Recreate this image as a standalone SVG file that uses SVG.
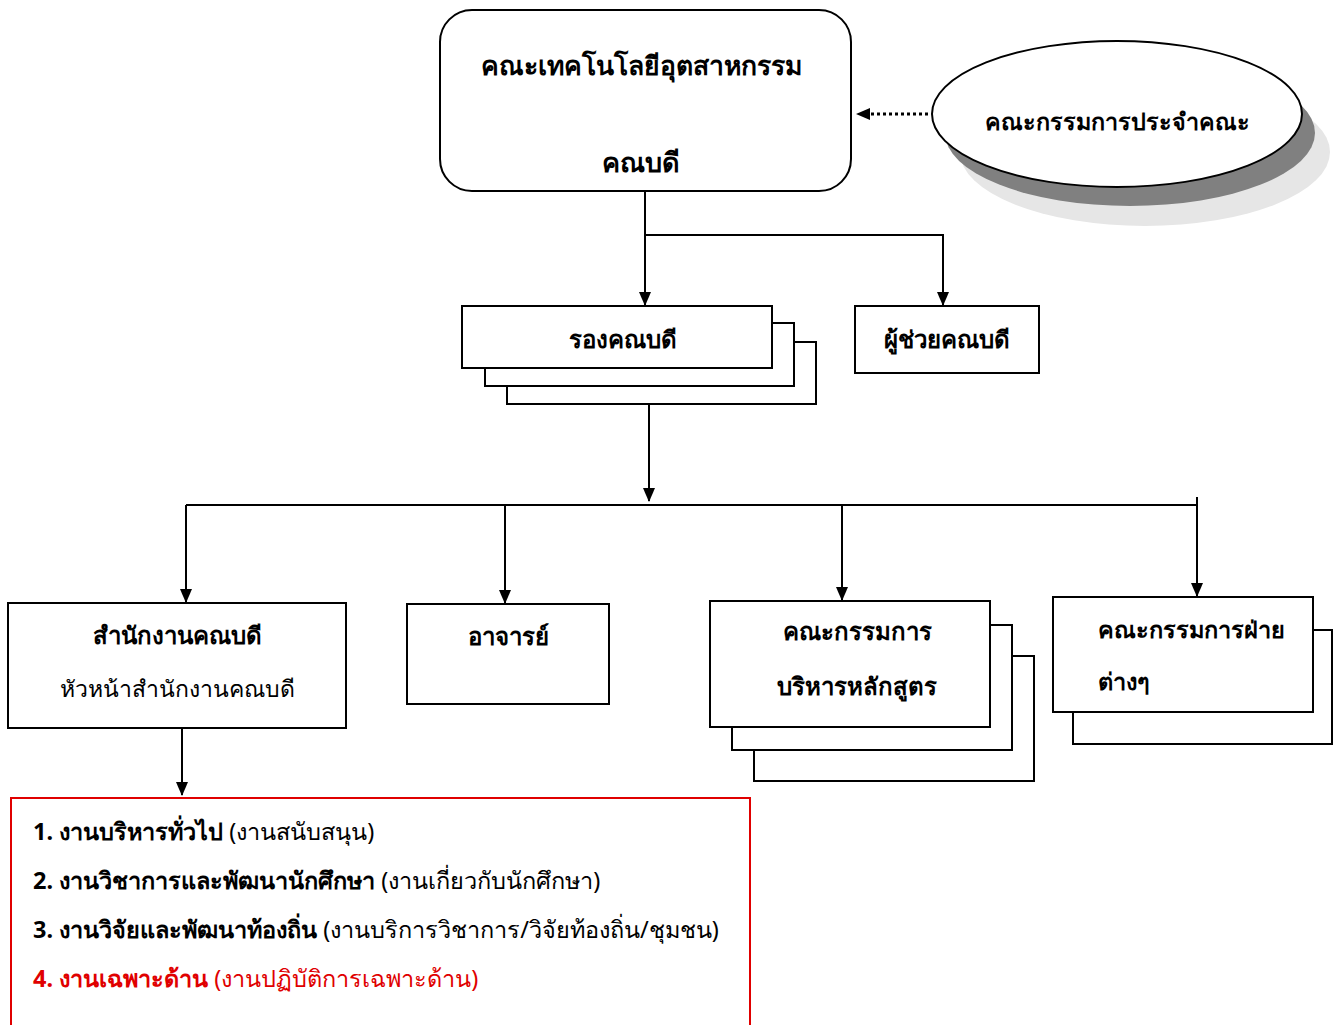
<svg xmlns="http://www.w3.org/2000/svg" width="1343" height="1025" viewBox="0 0 1343 1025">
<style>
text{font-family:"Noto Sans","DejaVu Sans",sans-serif;fill:#000}
.b{font-weight:bold}
.box{fill:#fff;stroke:#000;stroke-width:2}
.ln{fill:none;stroke:#000;stroke-width:2}
.tb{font-size:24px;font-weight:bold}
.tr{font-size:23px}
.tl{font-size:23.5px}
.red{fill:#e00000}
</style>
<defs>
<marker id="ah" viewBox="0 0 14 12" refX="13" refY="6" markerWidth="14" markerHeight="12" markerUnits="userSpaceOnUse" orient="auto">
<path d="M0,0 L14,6 L0,12 Z" fill="#000"/>
</marker>
</defs>
<rect width="1343" height="1025" fill="#fff"/>
<g id="connectors">
<path class="ln" d="M645,191 V305" marker-end="url(#ah)"/>
<path class="ln" d="M645,235 H943 V305" marker-end="url(#ah)"/>
<path class="ln" d="M649,404 V501" marker-end="url(#ah)"/>
<path class="ln" d="M186,505 H1198"/>
<path class="ln" d="M1197,497 V596" marker-end="url(#ah)"/>
<path class="ln" d="M186,505 V602" marker-end="url(#ah)"/>
<path class="ln" d="M505,505 V603" marker-end="url(#ah)"/>
<path class="ln" d="M842,505 V600" marker-end="url(#ah)"/>
<path class="ln" d="M182,728 V795" marker-end="url(#ah)"/>
<path d="M928,114 H868" fill="none" stroke="#000" stroke-width="3" stroke-dasharray="3,3"/>
<path d="M856,114 L870,108 L870,120 Z" fill="#000"/>
</g>
<g id="dean">
<rect class="box" x="440" y="10" width="411" height="181" rx="32"/>
<text style="font-size:26.5px;font-weight:bold" x="641" y="75" text-anchor="middle">คณะเทคโนโลยีอุตสาหกรรม</text>
<text style="font-size:27px;font-weight:bold" x="641" y="172" text-anchor="middle">คณบดี</text>
</g>
<g id="faculty-committee">
<ellipse cx="1145" cy="152" rx="185" ry="74" fill="#e6e6e6"/>
<ellipse cx="1130" cy="133" rx="185" ry="73" fill="#808080"/>
<ellipse cx="1117" cy="114" rx="185" ry="73" fill="#fff" stroke="#000" stroke-width="2"/>
<text style="font-size:23.3px;font-weight:bold" x="1117" y="130" text-anchor="middle">คณะกรรมการประจำคณะ</text>
</g>
<g id="vice-dean">
<rect class="box" x="507" y="342" width="309" height="62"/>
<rect class="box" x="485" y="323" width="309" height="63"/>
<rect class="box" x="462" y="306" width="310" height="62"/>
<text class="tb" x="623" y="348" text-anchor="middle">รองคณบดี</text>
</g>
<g id="assistant-dean">
<rect class="box" x="855" y="306" width="184" height="67"/>
<text class="tb" x="947" y="348" text-anchor="middle">ผู้ช่วยคณบดี</text>
</g>
<g id="dean-office">
<rect class="box" x="8" y="603" width="338" height="125"/>
<text class="tb" x="177" y="644" text-anchor="middle">สำนักงานคณบดี</text>
<text class="tr" x="177" y="697" text-anchor="middle">หัวหน้าสำนักงานคณบดี</text>
</g>
<g id="lecturer">
<rect class="box" x="407" y="604" width="202" height="100"/>
<text class="tb" x="508" y="645" text-anchor="middle">อาจารย์</text>
</g>
<g id="curriculum-committee">
<rect class="box" x="754" y="656" width="280" height="125"/>
<rect class="box" x="732" y="625" width="280" height="125"/>
<rect class="box" x="710" y="601" width="280" height="126"/>
<text class="tb" x="857" y="640" text-anchor="middle">คณะกรรมการ</text>
<text class="tb" x="857" y="695" text-anchor="middle">บริหารหลักสูตร</text>
</g>
<g id="division-committees">
<rect class="box" x="1073" y="630" width="259" height="114"/>
<rect class="box" x="1053" y="597" width="260" height="115"/>
<text class="tb" x="1098" y="638" style="font-size:23.5px">คณะกรรมการฝ่าย</text>
<text class="tb" x="1098" y="690" style="font-size:23.5px">ต่างๆ</text>
</g>
<g id="tasks">
<rect x="11" y="798" width="739" height="240" fill="#fff" stroke="#e00000" stroke-width="2"/>
<text class="tl" x="33" y="840"><tspan class="b">1. งานบริหารทั่วไป</tspan> (งานสนับสนุน)</text>
<text class="tl" x="33" y="889"><tspan class="b">2. งานวิชาการและพัฒนานักศึกษา</tspan> (งานเกี่ยวกับนักศึกษา)</text>
<text class="tl" x="33" y="938"><tspan class="b">3. งานวิจัยและพัฒนาท้องถิ่น</tspan> (งานบริการวิชาการ/วิจัยท้องถิ่น/ชุมชน)</text>
<text class="tl red" x="33" y="987"><tspan class="b">4. งานเฉพาะด้าน</tspan> (งานปฏิบัติการเฉพาะด้าน)</text>
</g>
</svg>
